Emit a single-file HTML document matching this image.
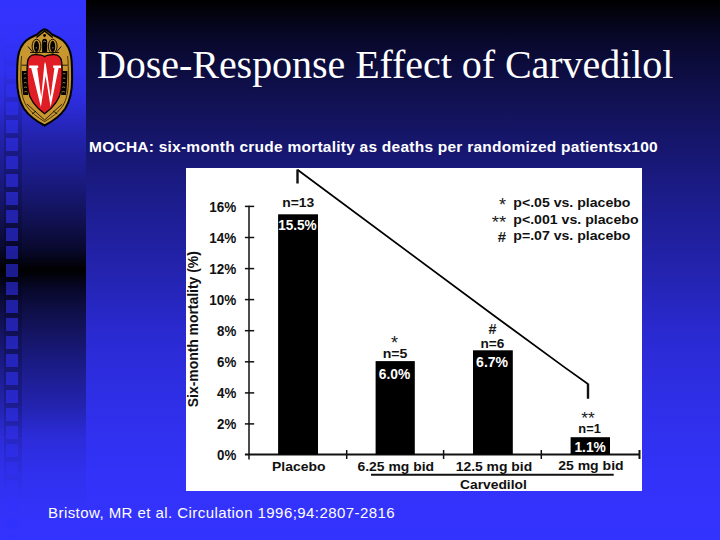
<!DOCTYPE html>
<html><head><meta charset="utf-8">
<style>
html,body{margin:0;padding:0;}
body{width:720px;height:540px;overflow:hidden;position:relative;background:#000;font-family:"Liberation Sans",sans-serif;}
#bg{position:absolute;left:0;top:0;width:720px;height:540px;background:linear-gradient(to bottom,rgb(0,0,0) 0px,rgb(8,8,44) 40px,rgb(15,15,74) 85px,rgb(21,21,104) 135px,rgb(28,28,140) 200px,rgb(35,35,174) 270px,rgb(42,42,210) 335px,rgb(47,47,232) 405px,rgb(50,50,248) 470px,rgb(51,51,255) 540px);}
#strip{position:absolute;left:0;top:0;width:86px;height:540px;background:linear-gradient(to bottom,rgb(51,51,255) 0px,rgb(50,50,248) 35px,rgb(49,49,242) 67px,rgb(44,44,220) 102px,rgb(35,35,174) 135px,rgb(28,28,140) 170px,rgb(21,21,104) 202px,rgb(15,15,74) 227px,rgb(8,8,44) 250px,rgb(0,0,0) 270px,rgb(8,8,44) 290px,rgb(15,15,74) 313px,rgb(21,21,104) 338px,rgb(28,28,140) 370px,rgb(35,35,174) 405px,rgb(44,44,218) 438px,rgb(48,48,238) 473px,rgb(50,50,248) 505px,rgb(51,51,255) 540px);}
#col{position:absolute;left:3.5px;top:0;width:18px;height:540px;background:linear-gradient(to bottom,rgba(0,0,20,0) 40px,rgba(0,0,20,0.2) 150px,rgba(0,0,20,0.2) 400px,rgba(0,0,20,0) 500px);}
#squares{position:absolute;left:0;top:0;width:86px;height:540px;}
.sq{position:absolute;left:6px;width:12px;height:12.5px;background:rgba(51,51,255,0.55);}
#title{position:absolute;left:97px;top:44.6px;font-family:"Liberation Serif",serif;font-size:40px;color:#fff;white-space:nowrap;line-height:1;letter-spacing:-0.05px;}
#sub{position:absolute;left:89px;top:138.5px;font-size:15.5px;font-weight:bold;color:#fff;white-space:nowrap;line-height:1;letter-spacing:0.24px;}
#foot{position:absolute;left:48px;top:505px;font-size:15px;color:#fff;white-space:nowrap;line-height:1;letter-spacing:0.44px;}
#box{position:absolute;left:186px;top:168px;width:456px;height:323px;background:#fff;}
svg{position:absolute;left:0;top:0;}
</style></head>
<body>
<div id="bg"></div>
<div id="strip"></div>
<div id="col"></div>
<div id="squares"><div class="sq" style="top:12px;opacity:0.64"></div><div class="sq" style="top:30px;opacity:0.70"></div><div class="sq" style="top:48px;opacity:0.76"></div><div class="sq" style="top:66px;opacity:0.82"></div><div class="sq" style="top:84px;opacity:0.88"></div><div class="sq" style="top:102px;opacity:0.94"></div><div class="sq" style="top:120px;opacity:1.00"></div><div class="sq" style="top:138px;opacity:1.00"></div><div class="sq" style="top:156px;opacity:1.00"></div><div class="sq" style="top:174px;opacity:1.00"></div><div class="sq" style="top:192px;opacity:1.00"></div><div class="sq" style="top:210px;opacity:1.00"></div><div class="sq" style="top:228px;opacity:1.00"></div><div class="sq" style="top:246px;opacity:1.00"></div><div class="sq" style="top:264px;opacity:1.00"></div><div class="sq" style="top:282px;opacity:1.00"></div><div class="sq" style="top:300px;opacity:1.00"></div><div class="sq" style="top:318px;opacity:1.00"></div><div class="sq" style="top:336px;opacity:1.00"></div><div class="sq" style="top:354px;opacity:1.00"></div><div class="sq" style="top:372px;opacity:1.00"></div><div class="sq" style="top:390px;opacity:1.00"></div><div class="sq" style="top:408px;opacity:0.96"></div><div class="sq" style="top:426px;opacity:0.88"></div><div class="sq" style="top:444px;opacity:0.80"></div><div class="sq" style="top:462px;opacity:0.72"></div><div class="sq" style="top:480px;opacity:0.64"></div><div class="sq" style="top:498px;opacity:0.55"></div><div class="sq" style="top:516px;opacity:0.55"></div><div class="sq" style="top:534px;opacity:0.55"></div></div>
<svg id="logo" width="720" height="540" viewBox="0 0 720 540">
  <path d="M44.6,29.2 C46.8,29.6 49.5,32 51.8,34.3 C55,36 59.5,37.5 63,40.5 C67.5,44.5 70.2,50 71.2,57 C72,63 72.1,70 72.1,79 C72.1,92 70.3,100.5 65.3,108.5 C60.3,116 52.3,121.5 44.6,125.5 C36.9,121.5 28.9,116 23.9,108.5 C18.9,100.5 17.1,92 17.1,79 C17.1,70 17.2,63 18,57 C19,50 21.7,44.5 26.2,40.5 C29.7,37.5 34.2,36 37.4,34.3 C39.7,32 42.4,29.6 44.6,29.2 Z" fill="#c8972f" stroke="#000" stroke-width="2"/>
  <path d="M21.6,56 C20.9,62 20.8,70 20.8,79 C20.8,91 22.3,99 26.5,106 C31,112.5 37.6,117.5 44.6,121.6 C51.6,117.5 58.2,112.5 62.7,106 C66.9,99 68.4,91 68.4,79 C68.4,70 68.3,62 67.6,56" fill="none" stroke="#2a1a00" stroke-width="0.8"/>
  <path d="M28,46.5 L33.5,53 M61.2,46.5 L55.7,53" stroke="#000" stroke-width="0.9"/>
  <path d="M36.5,37.5 L44.6,31 L52.7,37.5" fill="none" stroke="#000" stroke-width="1.6"/>
  <circle cx="44.6" cy="35.5" r="1.4" fill="#000"/>
  <ellipse cx="36.5" cy="46.2" rx="4.4" ry="7" fill="none" stroke="#000" stroke-width="0.9"/>
  <ellipse cx="52.7" cy="46.2" rx="4.4" ry="7" fill="none" stroke="#000" stroke-width="0.9"/>
  <ellipse cx="36.5" cy="46.5" rx="2.5" ry="5.7" fill="#000"/>
  <ellipse cx="52.7" cy="46.5" rx="2.5" ry="5.7" fill="#000"/>
  <path d="M42.1,52 V41.5 Q42.1,38.8 44.6,38.8 Q47.1,38.8 47.1,41.5 V52 Z" fill="#000"/>
  <path d="M43.3,41.8 Q44.6,40.4 45.9,41.8" stroke="#c0c4d0" stroke-width="0.7" fill="none"/>
  <circle cx="36.3" cy="47.8" r="0.6" fill="#a8b0c0"/>
  <circle cx="52.9" cy="47.8" r="0.6" fill="#a8b0c0"/>
  <path d="M30,52.5 H59.2" stroke="#000" stroke-width="0.8"/>
  <g fill="#000">
    <path d="M21.8,71 H28 V95 H23.2 C22.4,88 21.9,80 21.8,71 Z"/>
    <path d="M67.4,71 H61.2 V95 H66 C66.8,88 67.3,80 67.4,71 Z"/>
    <path d="M21.5,65.2 H28 M67.7,65.2 H61.2" stroke="#000" stroke-width="0.8"/>
  </g>
  <g fill="none" stroke="#d0a040" stroke-width="0.75">
    <path d="M23.8,74 q1.5,-1.2 3,0 M23.8,78.5 q1.5,-1.2 3,0 M23.9,83 q1.5,-1.2 3,0 M24,87.5 q1.5,-1.2 3,0 M24.3,92 q1.5,-1.2 3,0"/>
    <path d="M62.4,74 q1.5,-1.2 3,0 M62.4,78.5 q1.5,-1.2 3,0 M62.3,83 q1.5,-1.2 3,0 M62.2,87.5 q1.5,-1.2 3,0 M61.9,92 q1.5,-1.2 3,0"/>
  </g>
  <path d="M27,104 L44.6,120 L62.2,104 M32,114 L36,111 M57.2,114 L53.2,111" fill="none" stroke="#000" stroke-width="0.8"/>
  <path d="M44.6,56.6 C42.5,55.2 39,54.6 35,54.7 C30.5,54.9 28.1,57.5 27.5,62 C26.7,70 26.9,80 28.1,90 C29.6,100 36,107.5 44.6,113.8 C53.2,107.5 59.6,100 61.1,90 C62.3,80 62.5,70 61.7,62 C61.1,57.5 58.7,54.9 54.2,54.7 C50.2,54.6 46.7,55.2 44.6,56.6 Z" fill="#e01c24" stroke="#000" stroke-width="1.3"/>
  <path d="M29.2,65.6 H38.2 V68 H37.2 L41.2,97 L44.3,64.5 L45,61.8 L45.9,64.5 L50.6,97 L54.4,68 H53.2 V65.6 H61 V68 H58.6 L50.6,107 L45.6,76 L40.9,107 L31.2,68 H29.2 Z" fill="#fff"/>
</svg>
<div id="title">Dose-Response Effect of Carvedilol</div>
<div id="sub">MOCHA: six-month crude mortality as deaths per randomized patientsx100</div>
<div id="box"></div>
<svg width="720" height="540" viewBox="0 0 720 540" font-family="Liberation Sans, sans-serif" font-weight="bold">
  <g stroke="#111" stroke-width="1.5" fill="none">
    <line x1="249" y1="205.8" x2="249" y2="459.5"/>
    <line x1="244.9" y1="206.4" x2="254.2" y2="206.4"/>
    <line x1="244.9" y1="237.5" x2="254.2" y2="237.5"/>
    <line x1="244.9" y1="268.6" x2="254.2" y2="268.6"/>
    <line x1="244.9" y1="299.6" x2="254.2" y2="299.6"/>
    <line x1="244.9" y1="330.7" x2="254.2" y2="330.7"/>
    <line x1="244.9" y1="361.8" x2="254.2" y2="361.8"/>
    <line x1="244.9" y1="392.9" x2="254.2" y2="392.9"/>
    <line x1="244.9" y1="423.9" x2="254.2" y2="423.9"/>
    <line x1="244.9" y1="454.5" x2="640" y2="454.5" stroke-width="2"/>
    <line x1="346.7" y1="450" x2="346.7" y2="459"/>
    <line x1="443.6" y1="450" x2="443.6" y2="459"/>
    <line x1="541.3" y1="450" x2="541.3" y2="459"/>
    <line x1="639.5" y1="450" x2="639.5" y2="459" stroke-width="2"/>
    <line x1="371" y1="474.75" x2="613.7" y2="474.75" stroke-width="1.8"/>
    <polyline points="297.5,169.8 492.8,314.8 565,367.6 588,384" stroke-linejoin="round" stroke="#000" stroke-width="1.7"/>
    <path d="M297.5,183.6 V169.4 M588,383.5 V398.7" stroke="#111" stroke-width="2.4"/>
  </g>
  <g fill="#000">
    <rect x="278.1" y="214.3" width="39.9" height="240.2"/>
    <rect x="375.6" y="361.1" width="39.2" height="93.4"/>
    <rect x="473" y="350.3" width="39.8" height="104.2"/>
    <rect x="570.6" y="437.2" width="39.4" height="17.3"/>
  </g>
  <g font-size="14" fill="#111">
    <text id="t16" x="209.2" y="211.7" textLength="27" lengthAdjust="spacingAndGlyphs">16%</text>
    <text x="209.2" y="242.7" textLength="27" lengthAdjust="spacingAndGlyphs">14%</text>
    <text x="209.2" y="273.8" textLength="27" lengthAdjust="spacingAndGlyphs">12%</text>
    <text x="209.2" y="304.8" textLength="27" lengthAdjust="spacingAndGlyphs">10%</text>
    <text x="217" y="335.9" textLength="19.2" lengthAdjust="spacingAndGlyphs">8%</text>
    <text x="217" y="367" textLength="19.2" lengthAdjust="spacingAndGlyphs">6%</text>
    <text x="217" y="398.1" textLength="19.2" lengthAdjust="spacingAndGlyphs">4%</text>
    <text x="217" y="429.1" textLength="19.2" lengthAdjust="spacingAndGlyphs">2%</text>
    <text x="217" y="460" textLength="19.2" lengthAdjust="spacingAndGlyphs">0%</text>
  </g>
  <text transform="translate(197.9,407.2) rotate(-90)" font-size="14" fill="#111" textLength="156" lengthAdjust="spacingAndGlyphs">Six-month mortality (%)</text>
  <g font-size="13.5" fill="#111">
    <text x="272" y="470.8" textLength="53.4" lengthAdjust="spacingAndGlyphs">Placebo</text>
    <text x="357.5" y="470.6" textLength="76.5" lengthAdjust="spacingAndGlyphs">6.25 mg bid</text>
    <text x="455.7" y="470.6" textLength="76.5" lengthAdjust="spacingAndGlyphs">12.5 mg bid</text>
    <text x="558.2" y="470.3" textLength="65.4" lengthAdjust="spacingAndGlyphs">25 mg bid</text>
    <text x="460" y="489.4" textLength="66.8" lengthAdjust="spacingAndGlyphs">Carvedilol</text>
  </g>
  <g font-size="13" fill="#111">
    <text x="282.2" y="206.7" textLength="32" lengthAdjust="spacingAndGlyphs">n=13</text>
    <text x="382.7" y="357.8" textLength="24.7" lengthAdjust="spacingAndGlyphs">n=5</text>
    <text x="480.5" y="347.8" textLength="23.8" lengthAdjust="spacingAndGlyphs">n=6</text>
    <text x="578.3" y="432.8" textLength="22.5" lengthAdjust="spacingAndGlyphs">n=1</text>
  </g>
  <g font-size="17" fill="#1a1a1a" font-weight="normal">
    <text x="391" y="348.5" font-size="18">*</text>
    <text x="488.5" y="334" font-size="14" font-weight="bold" textLength="8" lengthAdjust="spacingAndGlyphs">#</text>
    <text x="581.2" y="423.8" textLength="13.5" lengthAdjust="spacingAndGlyphs">**</text>
    <text x="499" y="210.6" font-size="18">*</text>
    <text x="491.8" y="228.3" textLength="14.4" lengthAdjust="spacingAndGlyphs">**</text>
    <text x="497.8" y="242" font-size="14" font-weight="bold" textLength="8.3" lengthAdjust="spacingAndGlyphs">#</text>
  </g>
  <g font-size="14" fill="#fff">
    <text x="278.2" y="230.3" textLength="38.5" lengthAdjust="spacingAndGlyphs">15.5%</text>
    <text x="378.8" y="378.9" textLength="31.5" lengthAdjust="spacingAndGlyphs">6.0%</text>
    <text x="476.1" y="366.9" textLength="32" lengthAdjust="spacingAndGlyphs">6.7%</text>
    <text x="574.4" y="451.7" textLength="31.5" lengthAdjust="spacingAndGlyphs">1.1%</text>
  </g>
  <g font-size="13.5" fill="#111">
    <text x="513.3" y="206.7" textLength="117.2" lengthAdjust="spacingAndGlyphs">p&lt;.05 vs. placebo</text>
    <text x="513.3" y="223.6" textLength="125.3" lengthAdjust="spacingAndGlyphs">p&lt;.001 vs. placebo</text>
    <text x="513.3" y="240" textLength="117.2" lengthAdjust="spacingAndGlyphs">p=.07 vs. placebo</text>
  </g>
</svg>
<div id="foot">Bristow, MR et al. Circulation 1996;94:2807-2816</div>
</body></html>
